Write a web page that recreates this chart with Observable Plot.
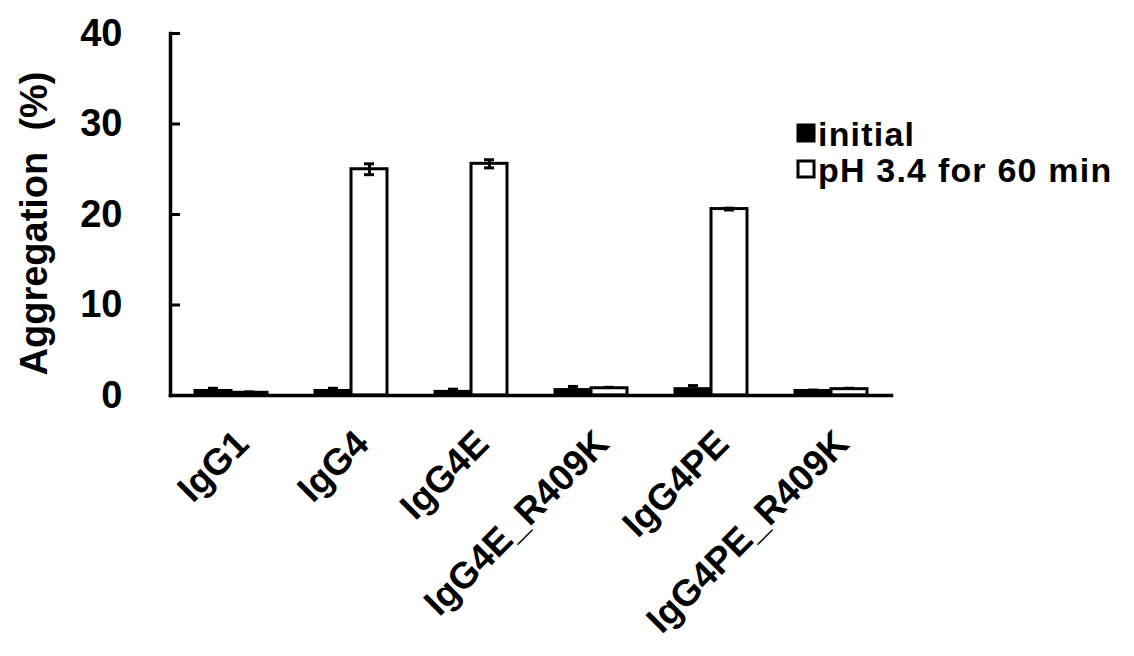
<!DOCTYPE html>
<html>
<head>
<meta charset="utf-8">
<script src="https://cdn.jsdelivr.net/npm/d3@7"></script>
<script src="https://cdn.jsdelivr.net/npm/@observablehq/plot@0.6"></script>
<style>
  html, body { margin: 0; padding: 0; background: #fff; }
  #chart { position: relative; width: 1134px; height: 656px; }
  #chart svg text { white-space: pre; }
</style>
</head>
<body>
<div id="chart"></div>
<script>
// Antibody variants along the x axis
const variants = ["IgG1", "IgG4", "IgG4E", "IgG4E_R409K", "IgG4PE", "IgG4PE_R409K"];
// Conditions (legend order)
const conditions = ["initial", "pH 3.4 for 60 min"];
// Aggregation (%) for each variant, per condition
const initialValues = [0.5, 0.5, 0.4, 0.6, 0.7, 0.5];
const initialErrors = [0.3, 0.3, 0.3, 0.4, 0.4, 0.1];
const acidValues = [0.3, 25.0, 25.6, 0.8, 20.6, 0.7];
const acidErrors = [0.1, 0.6, 0.45, 0.1, 0.1, 0.1];
// y axis
const yTicks = [0, 10, 20, 30, 40];
const yTitle = "Aggregation  (%)";

const initialRows = variants.map((v, i) => ({variant: v, value: initialValues[i], err: initialErrors[i]}));
const acidRows = variants.map((v, i) => ({variant: v, value: acidValues[i], err: acidErrors[i]}));

const font = "'Liberation Sans', Arial, sans-serif";
const half = 36; // each bar fills one half of the 72px group

const black = "#000";
const line = {stroke: black, strokeWidth: 3};

const chart = Plot.plot({
  width: 1134,
  height: 656,
  marginLeft: 170,
  marginRight: 243,
  marginTop: 33,
  marginBottom: 261,
  style: {fontFamily: font, fontWeight: "bold", fontSize: "38px", color: black, background: "#fff"},
  x: {domain: variants, paddingInner: 0.4, paddingOuter: 0.2},
  y: {domain: [0, 40]},
  marks: [
    // bars: left half of each group = initial, right half = acid treated
    Plot.barY(initialRows, {x: "variant", y: "value", fill: black, ...line, insetRight: half}),
    Plot.barY(acidRows, {x: "variant", y: "value", fill: "#fff", ...line, insetLeft: half}),
    // error bars with caps
    Plot.ruleX(initialRows, {x: "variant", y1: d => d.value - d.err, y2: d => d.value + d.err, dx: -18, ...line}),
    Plot.ruleX(acidRows, {x: "variant", y1: d => d.value - d.err, y2: d => d.value + d.err, dx: 18, ...line}),
    Plot.tickY(initialRows, {x: "variant", y: d => d.value + d.err, insetLeft: 13, insetRight: 49, ...line}),
    Plot.tickY(acidRows, {x: "variant", y: d => d.value + d.err, insetLeft: 49, insetRight: 13, ...line}),
    Plot.tickY(acidRows.filter(d => d.value > 5), {x: "variant", y: d => d.value - d.err, insetLeft: 49, insetRight: 13, ...line}),
    // y axis: labels, inward ticks, rotated title
    Plot.axisY({ticks: yTicks, tickSize: 0, tickPadding: 48, fontSize: 38, label: null}),
    Plot.tickY(yTicks, {y: d => d, frameAnchor: "left", insetRight: 711, ...line}),
    Plot.text([yTitle], {text: d => d, frameAnchor: "left", textAnchor: "middle", lineAnchor: "middle", rotate: -90, dx: -136, dy: 9, fontSize: 38, fontWeight: "bold", fill: black}),
    // x axis labels, rotated
    Plot.axisX({tickSize: 0, tickPadding: 42, tickRotate: -45, fontSize: 37, dx: 11, label: null}),
    // axis lines
    Plot.frame({anchor: "left", stroke: black, strokeWidth: 3.5}),
    Plot.frame({anchor: "bottom", stroke: black, strokeWidth: 3.5})
  ]
});

document.getElementById("chart").appendChild(chart);

// Legend in the upper right of the chart
const legend = d3.select(chart).append("g")
  .attr("font-family", font).attr("font-weight", "bold").attr("font-size", 34)
  .attr("letter-spacing", "1.2px").attr("text-anchor", "start");
const swatches = [{label: conditions[0], fill: black}, {label: conditions[1], fill: "#fff"}];
swatches.forEach((s, i) => {
  const baseline = 146 + i * 36;
  legend.append("rect").attr("x", 798).attr("y", baseline - 21).attr("width", 16).attr("height", 16)
    .attr("fill", s.fill).attr("stroke", black).attr("stroke-width", 3);
  legend.append("text").attr("x", 818).attr("y", baseline).attr("fill", black).text(s.label);
});
</script>
</body>
</html>
